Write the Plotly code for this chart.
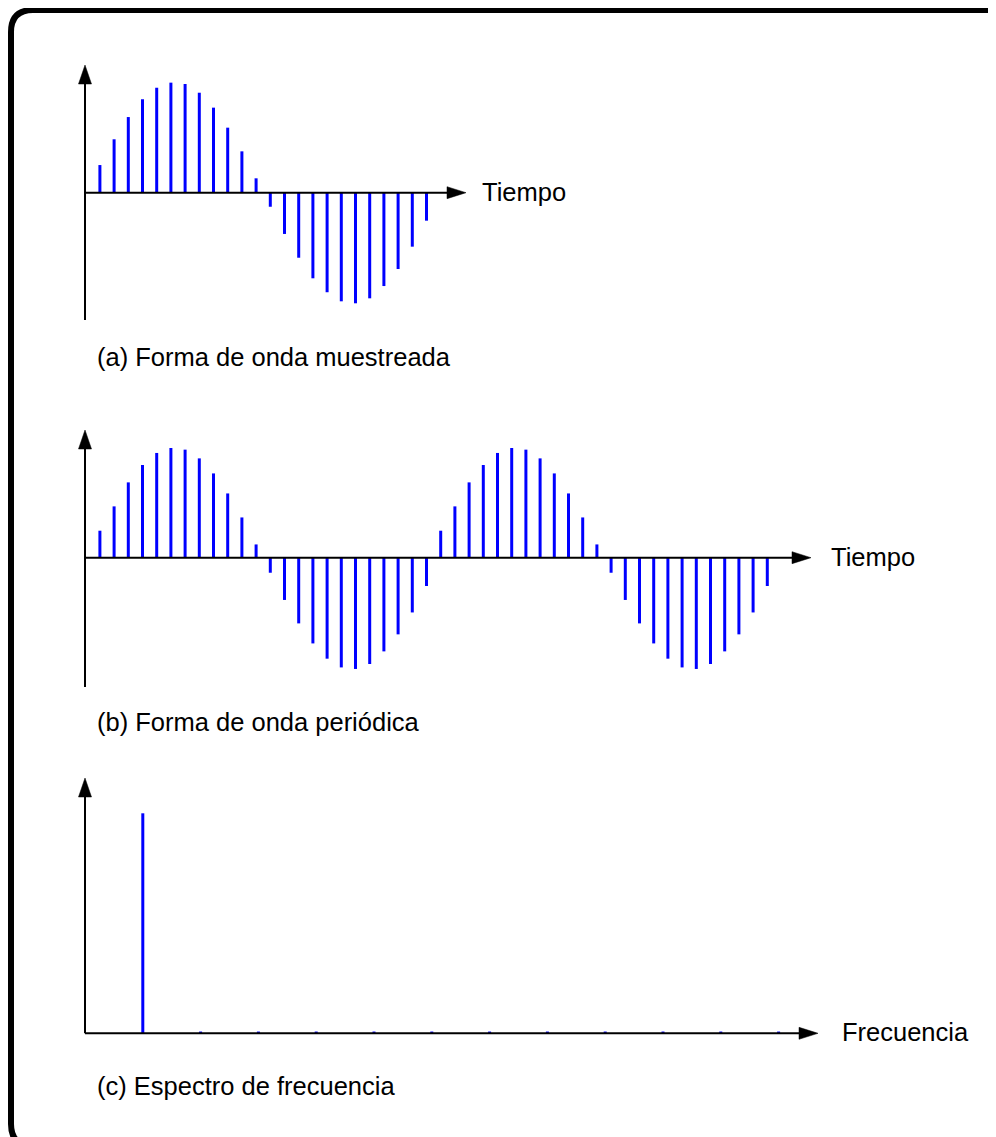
import plotly.graph_objects as go

# ---------------- data ----------------
# (a) one period of the sampled waveform (sample index 0..24), amplitude normalised to peak = 1
sampled_idx = list(range(25))
sampled_val = [0.0, 0.25, 0.483, 0.684, 0.845, 0.949, 0.995, 0.983, 0.904, 0.769, 0.588,
               0.374, 0.130, -0.127, -0.373, -0.588, -0.774, -0.900, -0.982, -1.000,
               -0.955, -0.844, -0.690, -0.488, -0.253]

# (b) periodic waveform (two periods, sample index 0..48)
periodic_idx = list(range(49))
periodic_val = [0.0, 0.244, 0.464, 0.681, 0.838, 0.947, 0.992, 0.977, 0.898, 0.762, 0.581,
                0.364, 0.120, -0.136, -0.382, -0.594, -0.775, -0.913, -0.992, -1.006,
                -0.961, -0.847, -0.693, -0.495, -0.256,
                0.244, 0.464, 0.681, 0.838, 0.947, 0.992, 0.977, 0.898, 0.762, 0.581,
                0.364, 0.120, -0.136, -0.382, -0.594, -0.775, -0.913, -0.992, -1.006,
                -0.961, -0.847, -0.693, -0.495, -0.256]

# (c) frequency spectrum (harmonic index 0..12)
freq_idx = list(range(13))
freq_val = [0.0, 1.0, 0.008, 0.008, 0.008, 0.008, 0.008, 0.008, 0.008, 0.008, 0.008, 0.008, 0.008]

axis_labels = ["Tiempo", "Tiempo", "Frecuencia"]
captions = ["(a) Forma de onda muestreada", "(b) Forma de onda periódica", "(c) Espectro de frecuencia"]

# ---------------- layout helpers ----------------
W, H = 996, 1137
OFF = 8  # page body margin
FONT = "Liberation Sans, Arial, sans-serif"
BLUE = "#0000ff"


def px(x):
    return (x - OFF) / W


def py(y):
    return 1 - (y - OFF) / H


def stems(xs, ys):
    sx, sy = [], []
    for x, y in zip(xs, ys):
        sx += [x, x, None]
        sy += [0, y, None]
    return sx, sy


# panel geometry (pixels): origin x, spacing, axis y, px per unit, band top/bottom, arrow tips
panels = [
    dict(x0=85.7, dx=14.2, y0=192.7, dy=110.6, top=40, bot=340, ytip=65, ybot=320, xtip=466,
         label_x=480, label_y=192, cap_y=357, xs=sampled_idx, ys=sampled_val),
    dict(x0=85.7, dx=14.2, y0=557.7, dy=110.6, top=405, bot=705, ytip=430, ybot=687, xtip=811,
         label_x=829, label_y=557, cap_y=722, xs=periodic_idx, ys=periodic_val),
    dict(x0=85.0, dx=57.8, y0=1033.3, dy=220.0, top=760, bot=1060, ytip=778, ybot=1033.3, xtip=818,
         label_x=840, label_y=1032, cap_y=1086, xs=freq_idx, ys=freq_val),
]

fig = go.Figure()
shapes = []
annotations = []
AX_X = 85.0

for i, p in enumerate(panels):
    n = "" if i == 0 else str(i + 1)
    sx, sy = stems(p["xs"], p["ys"])
    fig.add_trace(go.Scatter(x=sx, y=sy, mode="lines", line=dict(color=BLUE, width=3),
                             xaxis="x" + n, yaxis="y" + n, showlegend=False, hoverinfo="skip"))
    xr = [(OFF - p["x0"]) / p["dx"], (W + OFF - p["x0"]) / p["dx"]]
    yr = [(p["y0"] - p["bot"]) / p["dy"], (p["y0"] - p["top"]) / p["dy"]]
    ax = dict(domain=[0, 1], range=xr, visible=False, fixedrange=True, anchor="y" + n)
    ay = dict(domain=[py(p["bot"]), py(p["top"])], range=yr, visible=False, fixedrange=True,
              anchor="x" + n)
    fig.update_layout(**{"xaxis" + n: ax, "yaxis" + n: ay})

    # vertical axis line + arrow
    shapes.append(dict(type="line", xref="paper", yref="paper", x0=px(AX_X), x1=px(AX_X),
                       y0=py(p["ybot"]), y1=py(p["ytip"] + 18), line=dict(color="black", width=2)))
    shapes.append(dict(type="path", xref="paper", yref="paper",
                       path=f"M {px(AX_X)} {py(p['ytip'])} L {px(AX_X - 6.5)} {py(p['ytip'] + 19)} "
                            f"L {px(AX_X + 6.5)} {py(p['ytip'] + 19)} Z",
                       fillcolor="black", line=dict(color="black", width=0.5)))
    # horizontal axis line + arrow
    shapes.append(dict(type="line", xref="paper", yref="paper", x0=px(AX_X), x1=px(p["xtip"] - 18),
                       y0=py(p["y0"]), y1=py(p["y0"]), line=dict(color="black", width=2)))
    shapes.append(dict(type="path", xref="paper", yref="paper",
                       path=f"M {px(p['xtip'])} {py(p['y0'])} L {px(p['xtip'] - 19)} {py(p['y0'] - 6)} "
                            f"L {px(p['xtip'] - 19)} {py(p['y0'] + 6)} Z",
                       fillcolor="black", line=dict(color="black", width=0.5)))

    annotations.append(dict(text=axis_labels[i], xref="paper", yref="paper", x=px(p["label_x"]),
                            y=py(p["label_y"]), xanchor="left", yanchor="middle", showarrow=False,
                            font=dict(family=FONT, size=25.5, color="black")))
    annotations.append(dict(text=captions[i], xref="paper", yref="paper", x=px(95),
                            y=py(p["cap_y"]), xanchor="left", yanchor="middle", showarrow=False,
                            font=dict(family=FONT, size=25.5, color="black")))

# rounded outer border (partly cut off at right and bottom)
L, T, R, B, r = 11, 10, 1010, 1146, 22
border = (f"M {px(L + r)} {py(T)} L {px(R - r)} {py(T)} Q {px(R)} {py(T)} {px(R)} {py(T + r)} "
          f"L {px(R)} {py(B - r)} Q {px(R)} {py(B)} {px(R - r)} {py(B)} "
          f"L {px(L + r)} {py(B)} Q {px(L)} {py(B)} {px(L)} {py(B - r)} "
          f"L {px(L)} {py(T + r)} Q {px(L)} {py(T)} {px(L + r)} {py(T)} Z")
shapes.append(dict(type="path", xref="paper", yref="paper", path=border,
                   line=dict(color="black", width=6), layer="above"))

fig.update_layout(width=W, height=H, margin=dict(l=0, r=0, t=0, b=0),
                  paper_bgcolor="white", plot_bgcolor="rgba(0,0,0,0)",
                  shapes=shapes, annotations=annotations, showlegend=False)

fig.write_html("out.html", config={"displayModeBar": False})
